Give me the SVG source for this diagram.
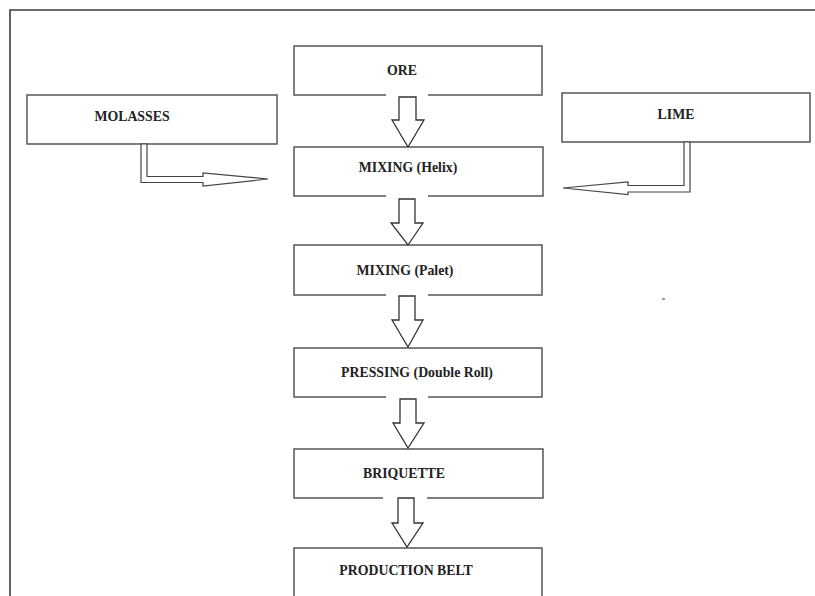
<svg xmlns="http://www.w3.org/2000/svg" width="815" height="596" viewBox="0 0 815 596">
  <style>
    .frame { fill: none; stroke: #3a3a3a; stroke-width: 1.6; }
    .box { fill: #ffffff; stroke: #555555; stroke-width: 1.5; }
    .gap { stroke: #ffffff; stroke-width: 3; }
    .label { font-family: "Liberation Serif", "Times New Roman", serif; font-weight: bold; font-size: 13.8px; fill: #222222; text-anchor: middle; }
    .flow { fill: #ffffff; stroke: #333333; stroke-width: 1.3; stroke-linejoin: miter; }
    .feed { fill: #ffffff; stroke: #444444; stroke-width: 1.2; stroke-linejoin: miter; }
  </style>

  <rect x="0" y="0" width="815" height="596" fill="#ffffff"/>

  <!-- page frame (open on the right and bottom) -->
  <path class="frame" d="M10,596 L10,10 L815,10"/>

  <!-- process steps -->
  <g id="ore">
    <rect class="box" x="294" y="46" width="248" height="49"/>
    <line class="gap" x1="386" y1="95" x2="428" y2="95"/>
    <text class="label" x="402" y="75">ORE</text>
  </g>
  <g id="molasses">
    <rect class="box" x="27" y="95" width="250" height="49"/>
    <text class="label" x="132" y="121">MOLASSES</text>
  </g>
  <g id="lime">
    <rect class="box" x="562" y="93" width="248" height="49"/>
    <text class="label" x="676" y="119">LIME</text>
  </g>
  <g id="mixing-helix">
    <rect class="box" x="294" y="147" width="249" height="49"/>
    <line class="gap" x1="386" y1="196" x2="428" y2="196"/>
    <text class="label" x="408" y="172">MIXING (Helix)</text>
  </g>
  <g id="mixing-palet">
    <rect class="box" x="294" y="245" width="248" height="50"/>
    <line class="gap" x1="386" y1="295" x2="428" y2="295"/>
    <text class="label" x="405" y="275">MIXING (Palet)</text>
  </g>
  <g id="pressing">
    <rect class="box" x="294" y="348" width="248" height="49"/>
    <line class="gap" x1="386" y1="397" x2="428" y2="397"/>
    <text class="label" x="417" y="377">PRESSING (Double Roll)</text>
  </g>
  <g id="briquette">
    <rect class="box" x="294" y="449" width="249" height="49"/>
    <line class="gap" x1="383" y1="498" x2="427" y2="498"/>
    <text class="label" x="404" y="478">BRIQUETTE</text>
  </g>
  <g id="production-belt">
    <rect class="box" x="294" y="548" width="248" height="60"/>
    <text class="label" x="406" y="575">PRODUCTION BELT</text>
  </g>

  <!-- connectors: hollow block arrows -->
  <g id="connectors">
    <polygon class="flow" points="399,97 416,97 416,120 424,120 408,147 392,120 399,120"/>
    <polygon class="flow" points="399,199 415,199 415,223 423,223 408,245 391,223 399,223"/>
    <polygon class="flow" points="399,296 415,296 415,320 423,320 408,347 392,320 399,320"/>
    <polygon class="flow" points="400,399 416,399 416,423 424,423 408,448 393,423 400,423"/>
    <polygon class="flow" points="398,498 414,498 414,523 423,523 407,547 392,523 398,523"/>

    <!-- side feeds: thin double-line arrows into the helix mixer -->
    <polygon class="feed" points="141,144 141,182.5 203,182.5 203,186 268,179 203,173 203,176.5 147,176.5 147,144"/>
    <polygon class="feed" points="690,142 690,192 628,192 628,194.5 563,188 628,182 628,185.5 684,185.5 684,142"/>
  </g>

  <!-- small scanning mark -->
  <rect x="662" y="298" width="3" height="2" fill="#9a9a9a"/>
</svg>
